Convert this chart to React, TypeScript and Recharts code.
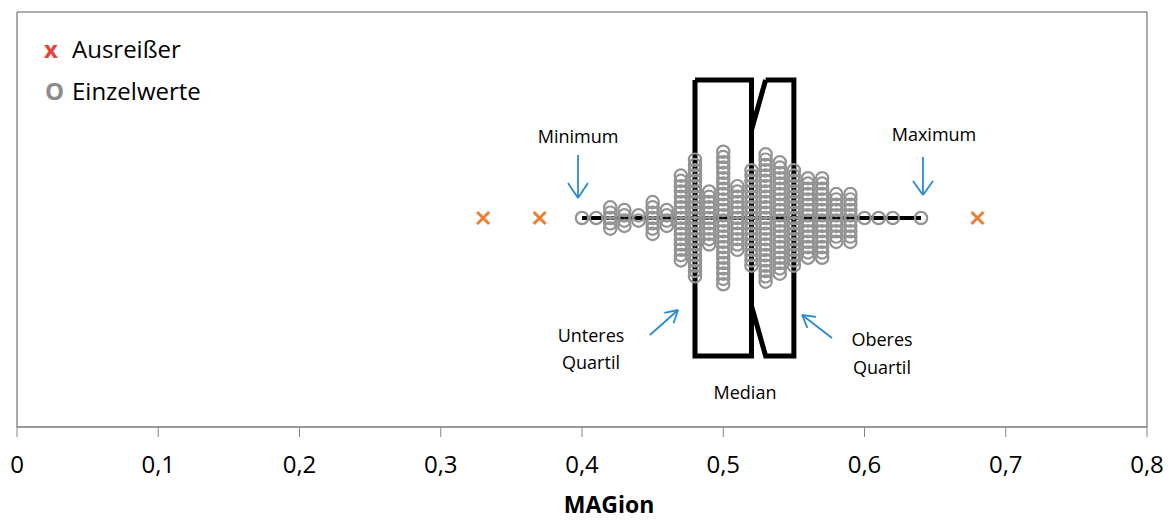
import React from 'react';
import {
  ScatterChart,
  Scatter,
  XAxis,
  YAxis,
  ReferenceArea,
  ReferenceLine,
  ReferenceDot,
} from 'recharts';

// ---- data ----
const dotValues = [0.4, 0.41, 0.42, 0.43, 0.44, 0.45, 0.46, 0.47, 0.48, 0.49, 0.5, 0.51, 0.52, 0.53, 0.54, 0.55, 0.56, 0.57, 0.58, 0.59, 0.6, 0.61, 0.62, 0.64];
const dotCounts = [1, 1, 5, 4, 2, 7, 4, 17, 23, 11, 26, 13, 19, 25, 22, 19, 16, 16, 10, 10, 1, 1, 1, 1];
const outlierValues = [0.33, 0.37, 0.68];
const xTicks = [0, 0.1, 0.2, 0.3, 0.4, 0.5, 0.6, 0.7, 0.8];

const minimum = 0.4;
const maximum = 0.64;
const q1 = 0.48;
const median = 0.52;
const notchHigh = 0.53;
const q3 = 0.55;

// vertical extents (dimensionless row height of the single box plot)
const BOX_HALF = 138;
const NOTCH_HALF = 88;
const STEP = 5.3;

// beeswarm stacking of the individual values
const dots = dotValues.flatMap((v, i) => {
  const n = dotCounts[i];
  return Array.from({ length: n }, (_, k) => ({ x: v, y: (k - (n - 1) / 2) * STEP }));
});
const outliers = outlierValues.map((v) => ({ x: v, y: 0 }));
const whisker = [
  { x: minimum, y: 0 },
  { x: maximum, y: 0 },
];
const lowerBox = [
  { x: q1, y: BOX_HALF },
  { x: median, y: BOX_HALF },
  { x: median, y: -BOX_HALF },
  { x: q1, y: -BOX_HALF },
  { x: q1, y: BOX_HALF },
];
const upperBox = [
  { x: notchHigh, y: BOX_HALF },
  { x: q3, y: BOX_HALF },
  { x: q3, y: -BOX_HALF },
  { x: notchHigh, y: -BOX_HALF },
  { x: median, y: -NOTCH_HALF },
  { x: median, y: NOTCH_HALF },
  { x: notchHigh, y: BOX_HALF },
];

// annotation arrows (data coordinates): [tail, tip, wing1, wing2]
type P = { x: number; y: number };
const arrows: P[][] = [
  [{ x: 0.3972, y: 63 }, { x: 0.3972, y: 20 }, { x: 0.3901, y: 35 }, { x: 0.4042, y: 35 }],
  [{ x: 0.6414, y: 61 }, { x: 0.6414, y: 23 }, { x: 0.6343, y: 37 }, { x: 0.6485, y: 37 }],
  [{ x: 0.4481, y: -117 }, { x: 0.468, y: -92 }, { x: 0.4583, y: -94.9 }, { x: 0.4648, y: -105.3 }],
  [{ x: 0.577, y: -120 }, { x: 0.5558, y: -97 }, { x: 0.5596, y: -109.9 }, { x: 0.5656, y: -98.8 }],
];
const labels = [
  { x: 0.3972, y: 81.5, text: 'Minimum' },
  { x: 0.6492, y: 83, text: 'Maximum' },
  { x: 0.4064, y: -117.5, text: 'Unteres' },
  { x: 0.4064, y: -145, text: 'Quartil' },
  { x: 0.6124, y: -121.5, text: 'Oberes' },
  { x: 0.6124, y: -150, text: 'Quartil' },
  { x: 0.5154, y: -174.5, text: 'Median' },
];

const FONT = "'Open Sans', 'Noto Sans', sans-serif";
const BLUE = '#2A8AD0';
const ORANGE = '#ED7D31';

const Ring = (props: any) => {
  const { cx, cy } = props;
  if (cx == null || cy == null) return <g />;
  return <circle cx={cx} cy={cy} r={6.2} fill="none" stroke="#939393" strokeWidth={2.2} />;
};
const Cross = (props: any) => {
  const { cx, cy } = props;
  if (cx == null || cy == null) return <g />;
  const s = 6;
  return (
    <g stroke={ORANGE} strokeWidth={3} strokeLinecap="butt">
      <line x1={cx - s} y1={cy - s} x2={cx + s} y2={cy + s} />
      <line x1={cx - s} y1={cy + s} x2={cx + s} y2={cy - s} />
    </g>
  );
};
const Nothing = () => <g />;

const fmt = (v: number) => (v === 0 ? '0' : v.toFixed(1).replace('.', ','));

export default function App() {
  return (
    <div style={{ position: 'absolute', left: 0, top: 0, width: 1170, height: 521, background: '#fff' }}>
      <ScatterChart width={1170} height={521} margin={{ top: 12, right: 23, bottom: 0, left: 17 }}>
        <XAxis
          type="number"
          dataKey="x"
          domain={[0, 0.8]}
          ticks={xTicks}
          tickFormatter={fmt}
          height={94}
          tickSize={10}
          tickMargin={19}
          axisLine={{ stroke: '#868686' }}
          tickLine={{ stroke: '#868686' }}
          tick={{ fill: '#000', fontSize: 24, fontFamily: FONT }}
          label={{
            value: 'MAGion',
            position: 'insideBottom',
            offset: 8,
            dx: 27,
            style: { fill: '#000', fontSize: 23, fontWeight: 700, fontFamily: FONT },
          }}
        />
        <YAxis type="number" dataKey="y" domain={[-209, 206]} hide />
        <ReferenceArea x1={0} x2={0.8} y1={-209} y2={206} fill="none" stroke="#595959" strokeWidth={1} />
        <Scatter data={whisker} line={{ stroke: '#000', strokeWidth: 4 }} shape={Nothing} isAnimationActive={false} />
        <Scatter data={lowerBox} line={{ stroke: '#000', strokeWidth: 5 }} shape={Nothing} isAnimationActive={false} />
        <Scatter data={upperBox} line={{ stroke: '#000', strokeWidth: 5 }} shape={Nothing} isAnimationActive={false} />
        <Scatter data={dots} shape={Ring} isAnimationActive={false} />
        <Scatter data={outliers} shape={Cross} isAnimationActive={false} />
        {arrows.flatMap((a, i) => [
          <ReferenceLine key={`s${i}`} segment={[a[0], a[1]]} stroke={BLUE} strokeWidth={1.8} />,
          <ReferenceLine key={`w1${i}`} segment={[a[2], a[1]]} stroke={BLUE} strokeWidth={1.8} />,
          <ReferenceLine key={`w2${i}`} segment={[a[3], a[1]]} stroke={BLUE} strokeWidth={1.8} />,
        ])}
        {labels.map((l, i) => (
          <ReferenceDot
            key={`l${i}`}
            x={l.x}
            y={l.y}
            r={1}
            fill="none"
            stroke="none"
            label={{ value: l.text, position: 'center', fill: '#000', fontSize: 18, fontFamily: FONT }}
          />
        ))}
      </ScatterChart>
      <svg width={300} height={120} style={{ position: 'absolute', left: 0, top: 0 }}>
        <text x={44} y={58} fill="#E8403A" fontSize={24} fontWeight={700} fontFamily={FONT}>x</text>
        <text x={72} y={58} fill="#000" fontSize={24} fontFamily={FONT}>Ausreißer</text>
        <text x={45} y={100} fill="#8c8c8c" fontSize={24} fontWeight={700} fontFamily={FONT}>O</text>
        <text x={72} y={100} fill="#000" fontSize={24} fontFamily={FONT}>Einzelwerte</text>
      </svg>
    </div>
  );
}
